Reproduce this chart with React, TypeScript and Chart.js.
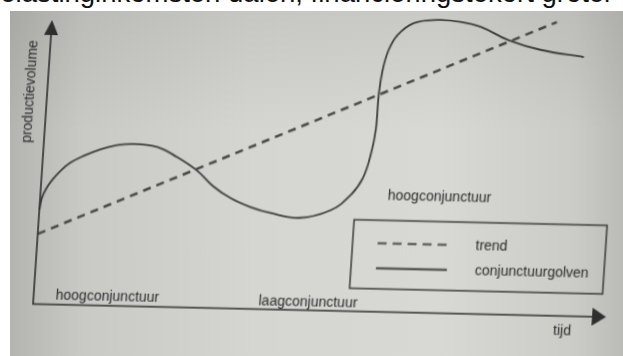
import React, { useEffect, useRef } from "react";
import { Chart, registerables } from "chart.js";

Chart.register(...registerables);

// ---- data (x: time 0..100 along the time axis, y: production volume 0..100 along the vertical axis)
const waveX = [0, 0.3, 0.9, 1.9, 3.2, 4.8, 7.0, 9.9, 12.5, 15.6, 19.8, 23.4, 27.1, 30.0, 33.2, 36.8, 40.3, 45.3, 50.8, 54.1, 56.0, 57.1, 57.7, 57.8, 58.2, 59.0, 60.4, 63.1, 67.2, 71.2, 74.8, 79.7, 85.5, 93.1];
const waveY = [33.1, 37.3, 40.5, 43.8, 47.0, 49.9, 52.4, 54.9, 56.4, 57.1, 56.2, 52.8, 48.1, 42.9, 38.8, 35.8, 33.9, 32.4, 35.4, 40.9, 46.9, 55.1, 63.9, 75.9, 85.1, 92.1, 97.5, 101.8, 103.1, 102.6, 101.0, 96.6, 93.4, 91.2];
const trendX = [0, 88.0];
const trendY = [24.7, 103.3];
const seriesLabels = ["trend", "conjunctuurgolven"];
const axisTitles = ["tijd", "productievolume"];
const phaseLabels = ["hoogconjunctuur", "laagconjunctuur", "hoogconjunctuur"];
const headerText = "belastinginkomsten dalen, financieringstekort groter";

const INK = "#2e2e2e";
const FONT = "14px 'Liberation Sans', Arial, sans-serif";

const figurePlugin = {
  id: "figure",
  afterDatasetsDraw(chart: any) {
    const { ctx, chartArea: a } = chart;
    ctx.save();
    ctx.strokeStyle = INK;
    ctx.fillStyle = INK;
    ctx.lineWidth = 1.6;
    ctx.setLineDash([]);
    // axes
    ctx.beginPath();
    ctx.moveTo(a.left, a.top + 14);
    ctx.lineTo(a.left, a.bottom);
    ctx.lineTo(a.right - 13, a.bottom);
    ctx.stroke();
    // arrow heads
    ctx.beginPath();
    ctx.moveTo(a.left, a.top);
    ctx.lineTo(a.left - 7, a.top + 15);
    ctx.lineTo(a.left + 7, a.top + 15);
    ctx.closePath();
    ctx.fill();
    ctx.beginPath();
    ctx.moveTo(a.right, a.bottom);
    ctx.lineTo(a.right - 14, a.bottom - 9);
    ctx.lineTo(a.right - 14, a.bottom + 9);
    ctx.closePath();
    ctx.fill();

    ctx.font = FONT;
    ctx.fillStyle = "#2a2a2a";
    // axis titles
    ctx.save();
    ctx.translate(a.left - 17, a.top + 72);
    ctx.rotate(-Math.PI / 2);
    ctx.textAlign = "center";
    ctx.textBaseline = "middle";
    ctx.fillText(axisTitles[1], 0, 0);
    ctx.restore();
    ctx.textAlign = "center";
    ctx.textBaseline = "middle";
    ctx.fillText(axisTitles[0], a.right - 43, a.bottom + 15);

    // phase labels
    ctx.textAlign = "left";
    ctx.textBaseline = "alphabetic";
    ctx.fillText(phaseLabels[0], a.left + 22, a.bottom - 5.5);
    ctx.fillText(phaseLabels[1], a.left + 225, a.bottom - 4);
    ctx.fillText(phaseLabels[2], a.left + 347, a.top + 172);

    // legend box
    const bx = a.left + 315;
    const by = a.top + 192.5;
    ctx.lineWidth = 1.4;
    ctx.strokeStyle = INK;
    ctx.strokeRect(bx, by, 253, 68.5);
    const ds = chart.data.datasets;
    ctx.beginPath();
    ctx.lineWidth = 1.8;
    ctx.strokeStyle = ds[0].borderColor;
    ctx.setLineDash([9, 6]);
    ctx.moveTo(bx + 25, by + 23);
    ctx.lineTo(bx + 96, by + 23);
    ctx.stroke();
    ctx.setLineDash([]);
    ctx.beginPath();
    ctx.strokeStyle = ds[1].borderColor;
    ctx.lineWidth = 1.8;
    ctx.moveTo(bx + 25, by + 48);
    ctx.lineTo(bx + 96, by + 48);
    ctx.stroke();
    ctx.textBaseline = "middle";
    ctx.fillStyle = "#2a2a2a";
    ctx.fillText(ds[0].label, bx + 123, by + 23.5);
    ctx.fillText(ds[1].label, bx + 124, by + 48.5);
    ctx.restore();
  },
};

export default function App() {
  const ref = useRef<HTMLCanvasElement>(null);
  useEffect(() => {
    if (!ref.current) return;
    const chart = new Chart(ref.current, {
      type: "scatter",
      data: {
        datasets: [
          {
            label: seriesLabels[0],
            data: trendX.map((x, i) => ({ x, y: trendY[i] })),
            showLine: true,
            borderColor: "#474747",
            borderWidth: 2.6,
            borderDash: [8, 6],
            pointRadius: 0,
            clip: false as any,
          },
          {
            label: seriesLabels[1],
            data: waveX.map((x, i) => ({ x, y: waveY[i] })),
            showLine: true,
            borderColor: "#3b3b3b",
            borderWidth: 1.8,
            pointRadius: 0,
            tension: 0.4,
            clip: false as any,
          },
        ],
      },
      options: {
        responsive: false,
        animation: false,
        devicePixelRatio: 1,
        layout: { padding: { left: 33, top: 20, right: 17, bottom: 52 } },
        scales: {
          x: { type: "linear", min: 0, max: 100, display: false },
          y: { type: "linear", min: 0, max: 100, display: false },
        },
        plugins: { legend: { display: false }, tooltip: { enabled: false } },
      },
      plugins: [figurePlugin],
    });
    return () => chart.destroy();
  }, []);

  return (
    <div style={{ position: "absolute", left: 0, top: 0, width: 623, height: 356, overflow: "hidden", background: "#fff" }}>
      <div
        style={{
          position: "absolute",
          left: 10,
          top: 11,
          right: 0,
          bottom: 0,
          background:
            "linear-gradient(180deg, rgba(0,0,0,0.07) 0%, rgba(0,0,0,0) 35%), linear-gradient(90deg, #b4b4b1 0%, #c9c9c6 12%, #d5d5d1 40%, #d8d8d4 70%, #cbcbc7 92%, #bbbbb7 100%)",
        }}
      />
      <div
        style={{
          position: "absolute",
          left: -15,
          top: -21,
          whiteSpace: "nowrap",
          fontFamily: "'Liberation Sans', Arial, sans-serif",
          fontSize: 27.5,
          lineHeight: 1,
          color: "#111",
        }}
      >
        {headerText}
      </div>
      <canvas
        ref={ref}
        width={623}
        height={356}
        style={{
          position: "absolute",
          left: 0,
          top: 0,
          width: 623,
          height: 356,
          transformOrigin: "33px 304px",
          transform: "matrix(1, 0.0227, -0.0669, 1, 0, 0)",
        }}
      />
    </div>
  );
}
